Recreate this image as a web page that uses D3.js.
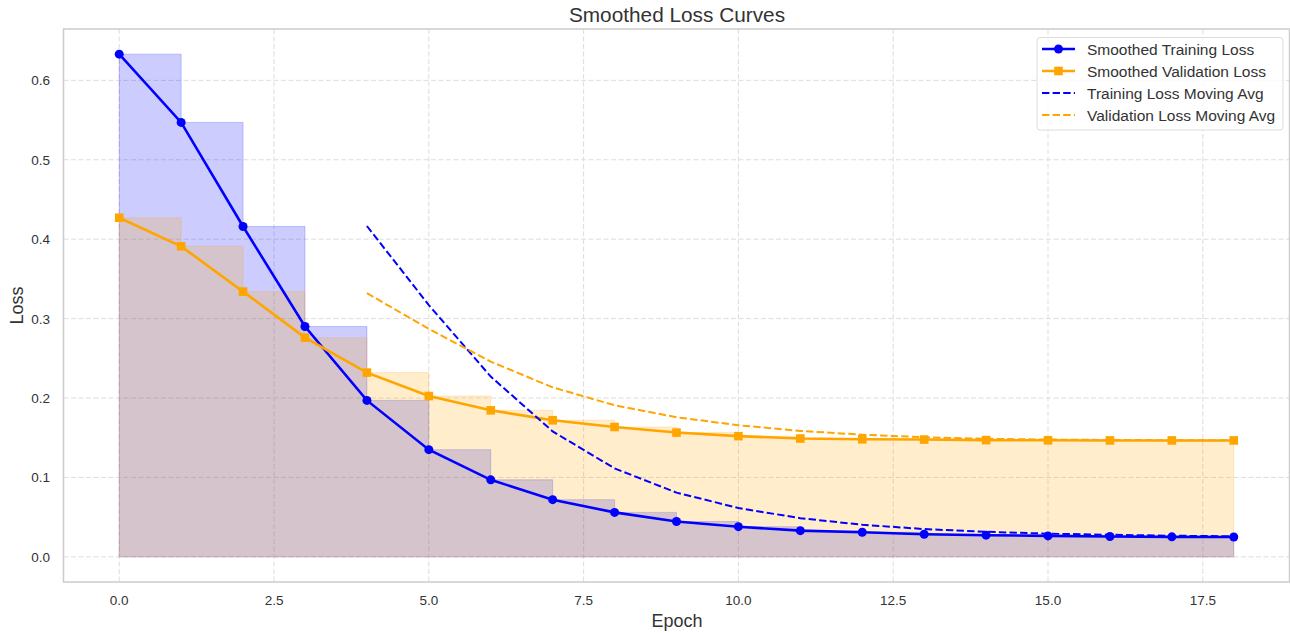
<!DOCTYPE html>
<html>
<head>
<meta charset="utf-8">
<script src="https://cdn.jsdelivr.net/npm/d3@7"></script>
<style>
  body { margin: 0; background: #fff; }
  text { font-family: "Liberation Sans", Arial, sans-serif; }
</style>
</head>
<body>
<script>
var width = 1290;
var height = 633;

var epochs = d3.range(0, 19);
var trainLoss = [0.633, 0.547, 0.416, 0.290, 0.197, 0.135, 0.097, 0.072, 0.056, 0.0445,
  0.038, 0.033, 0.031, 0.0285, 0.0273, 0.0264, 0.0257, 0.0252, 0.025];
var valLoss = [0.427, 0.391, 0.334, 0.276, 0.232, 0.2025, 0.1845, 0.172, 0.1635, 0.1565,
  0.152, 0.149, 0.148, 0.1477, 0.147, 0.1468, 0.1466, 0.1466, 0.1466];
var maEpochs = d3.range(4, 19);
var trainMA = [0.4166, 0.317, 0.227, 0.158, 0.1114, 0.0809, 0.0615, 0.0487, 0.0405,
  0.035, 0.0316, 0.0292, 0.0278, 0.0266, 0.0259];
var valMA = [0.332, 0.2871, 0.2458, 0.2134, 0.1909, 0.1758, 0.1657, 0.1586, 0.1538,
  0.1506, 0.1487, 0.1477, 0.1472, 0.1469, 0.1467];
var xTicks = [0, 2.5, 5, 7.5, 10, 12.5, 15, 17.5];
var yTicks = [0, 0.1, 0.2, 0.3, 0.4, 0.5, 0.6];

var pLeft = 63.5, pRight = 1289.5, pTop = 29, pBottom = 582;

var x = d3.scaleLinear().domain([-0.9, 18.9]).range([pLeft, pRight]);
var y = d3.scaleLinear().domain([-0.03165, 0.66465]).range([pBottom, pTop]);

var svg = d3.select("body").append("svg")
  .attr("width", width)
  .attr("height", height);

// grid
svg.append("g").selectAll("line")
  .data(xTicks)
  .enter().append("line")
  .attr("x1", function(d) { return x(d); })
  .attr("x2", function(d) { return x(d); })
  .attr("y1", pTop)
  .attr("y2", pBottom)
  .style("stroke", "#dddddd")
  .style("stroke-width", 1)
  .style("stroke-dasharray", "5,2.5");

svg.append("g").selectAll("line")
  .data(yTicks)
  .enter().append("line")
  .attr("x1", pLeft)
  .attr("x2", pRight)
  .attr("y1", function(d) { return y(d); })
  .attr("y2", function(d) { return y(d); })
  .style("stroke", "#dddddd")
  .style("stroke-width", 1)
  .style("stroke-dasharray", "5,2.5");

// step fills
var area = d3.area()
  .curve(d3.curveStepAfter)
  .x(function(d) { return x(d[0]); })
  .y0(y(0))
  .y1(function(d) { return y(d[1]); });

[[trainLoss, "blue"], [valLoss, "orange"]].forEach(function(s) {
  svg.append("path")
    .datum(epochs.map(function(e, i) { return [e, s[0][i]]; }))
    .attr("d", area)
    .style("fill", s[1])
    .style("fill-opacity", 0.2)
    .style("stroke", s[1])
    .style("stroke-opacity", 0.2)
    .style("stroke-width", 1);
});

var line = d3.line()
  .x(function(d) { return x(d[0]); })
  .y(function(d) { return y(d[1]); });

// smoothed lines
svg.append("path")
  .datum(epochs.map(function(e, i) { return [e, trainLoss[i]]; }))
  .attr("d", line)
  .style("fill", "none")
  .style("stroke", "blue")
  .style("stroke-width", 2.6);

svg.append("g").selectAll("circle")
  .data(epochs)
  .enter().append("circle")
  .attr("cx", function(d) { return x(d); })
  .attr("cy", function(d, i) { return y(trainLoss[i]); })
  .attr("r", 4.5)
  .style("fill", "blue");

svg.append("path")
  .datum(epochs.map(function(e, i) { return [e, valLoss[i]]; }))
  .attr("d", line)
  .style("fill", "none")
  .style("stroke", "orange")
  .style("stroke-width", 2.6);

svg.append("g").selectAll("rect")
  .data(epochs)
  .enter().append("rect")
  .attr("x", function(d) { return x(d) - 4.3; })
  .attr("y", function(d, i) { return y(valLoss[i]) - 4.3; })
  .attr("width", 8.6)
  .attr("height", 8.6)
  .style("fill", "orange");

// moving averages
svg.append("path")
  .datum(maEpochs.map(function(e, i) { return [e, trainMA[i]]; }))
  .attr("d", line)
  .style("fill", "none")
  .style("stroke", "blue")
  .style("stroke-width", 2)
  .style("stroke-dasharray", "7.4,3.2");

svg.append("path")
  .datum(maEpochs.map(function(e, i) { return [e, valMA[i]]; }))
  .attr("d", line)
  .style("fill", "none")
  .style("stroke", "orange")
  .style("stroke-width", 2)
  .style("stroke-dasharray", "7.4,3.2");

// frame
svg.append("rect")
  .attr("x", pLeft)
  .attr("y", pTop)
  .attr("width", pRight - pLeft)
  .attr("height", pBottom - pTop)
  .style("fill", "none")
  .style("stroke", "#cccccc")
  .style("stroke-width", 1.5);

// ticks
svg.append("g").selectAll("text")
  .data(xTicks)
  .enter().append("text")
  .attr("x", function(d) { return x(d); })
  .attr("y", 605)
  .attr("text-anchor", "middle")
  .style("font-size", "13.5px")
  .style("fill", "#333")
  .text(function(d) { return d.toFixed(1); });

svg.append("g").selectAll("text")
  .data(yTicks)
  .enter().append("text")
  .attr("x", 50)
  .attr("y", function(d) { return y(d) + 5; })
  .attr("text-anchor", "end")
  .style("font-size", "13.5px")
  .style("fill", "#333")
  .text(function(d) { return d.toFixed(1); });

svg.append("text")
  .attr("x", 677)
  .attr("y", 627)
  .attr("text-anchor", "middle")
  .style("font-size", "18px")
  .style("fill", "#333")
  .text("Epoch");

svg.append("text")
  .attr("transform", "translate(23," + ((pTop + pBottom) / 2) + ") rotate(-90)")
  .attr("text-anchor", "middle")
  .style("font-size", "18px")
  .style("fill", "#333")
  .text("Loss");

svg.append("text")
  .attr("x", 677)
  .attr("y", 22)
  .attr("text-anchor", "middle")
  .style("font-size", "20.8px")
  .style("fill", "#333")
  .text("Smoothed Loss Curves");

// legend
var legendItems = [
  { label: "Smoothed Training Loss", color: "blue", marker: "circle", dash: null },
  { label: "Smoothed Validation Loss", color: "orange", marker: "square", dash: null },
  { label: "Training Loss Moving Avg", color: "blue", marker: null, dash: "7.4,3.2" },
  { label: "Validation Loss Moving Avg", color: "orange", marker: null, dash: "7.4,3.2" }
];

var legend = svg.append("g");
legend.append("rect")
  .attr("x", 1037)
  .attr("y", 37.5)
  .attr("width", 246)
  .attr("height", 92.5)
  .attr("rx", 3)
  .style("fill", "#fff")
  .style("fill-opacity", 0.8)
  .style("stroke", "#dddddd")
  .style("stroke-width", 1);

var li = legend.selectAll("g.item")
  .data(legendItems)
  .enter().append("g")
  .attr("class", "item")
  .attr("transform", function(d, i) { return "translate(0," + (49 + i * 22) + ")"; });

li.append("line")
  .attr("x1", 1042)
  .attr("x2", 1075)
  .attr("y1", 0)
  .attr("y2", 0)
  .style("stroke", function(d) { return d.color; })
  .style("stroke-width", function(d) { return d.dash ? 2 : 2.6; })
  .style("stroke-dasharray", function(d) { return d.dash; });

li.filter(function(d) { return d.marker === "circle"; })
  .append("circle")
  .attr("cx", 1058.5)
  .attr("cy", 0)
  .attr("r", 4.5)
  .style("fill", function(d) { return d.color; });

li.filter(function(d) { return d.marker === "square"; })
  .append("rect")
  .attr("x", 1058.5 - 4.3)
  .attr("y", -4.3)
  .attr("width", 8.6)
  .attr("height", 8.6)
  .style("fill", function(d) { return d.color; });

li.append("text")
  .attr("x", 1087)
  .attr("y", 5.5)
  .style("font-size", "15.5px")
  .style("fill", "#333")
  .text(function(d) { return d.label; });
</script>
</body>
</html>
